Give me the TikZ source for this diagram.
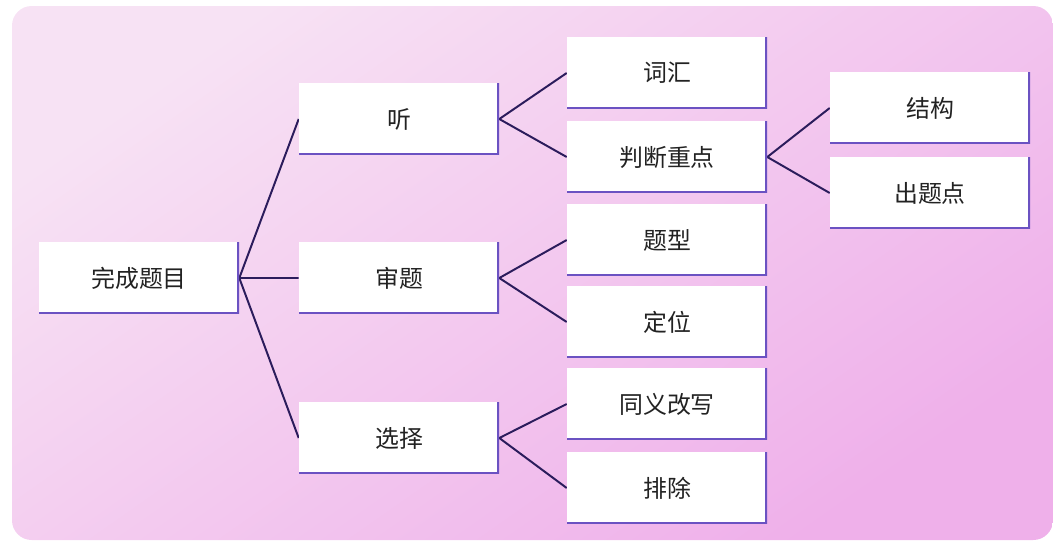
\documentclass[tikz,border=0pt]{standalone}
\usepackage{fontspec}
\setmainfont{Noto Sans CJK SC}
\usepackage{tikz}
\usetikzlibrary{backgrounds,calc}
\definecolor{bgtop}{HTML}{F7E2F4}
\definecolor{bgbot}{HTML}{EFB0EA}
\definecolor{linec}{HTML}{2B1C5C}
\definecolor{shadowc}{HTML}{6B52C2}
\definecolor{textc}{HTML}{222222}

\begin{document}
\begin{tikzpicture}[x=0.025cm,y=-0.025cm]
  \tikzstyle{box} = [fill=white,minimum width=5cm,minimum height=1.78cm,inner sep=0pt,
    font=\fontsize{17}{20}\selectfont,text=textc,
    path picture={\draw[shadowc,line width=2.4pt]
      (path picture bounding box.north east) -- (path picture bounding box.south east)
      -- (path picture bounding box.south west);}]
  \tikzstyle{branch} = [draw=linec,line width=1.4pt]
  %
  \useasboundingbox (0,0) rectangle (1053,542);
  % First column.
  \node[box] (task) at (139,278) {完成题目};
  % Second column.
  \node[box] (listen) at (399,119) {听};
  \node[box] (read) at (399,278) {审题};
  \node[box] (choose) at (399,438) {选择};
  % Third column.
  \node[box] (vocab) at (667,73) {词汇};
  \node[box] (focus) at (667,157) {判断重点};
  \node[box] (qtype) at (667,240) {题型};
  \node[box] (locate) at (667,322) {定位};
  \node[box] (para) at (667,404) {同义改写};
  \node[box] (exclude) at (667,488) {排除};
  % Fourth column.
  \node[box] (struct) at (930,108) {结构};
  \node[box] (point) at (930,193) {出题点};
  \begin{pgfonlayer}{background}
      % Draw background.
      \shade[top color=bgtop,bottom color=bgbot,shading angle=35,rounded corners=14pt]
        (12,6) rectangle (1053,540);
      % Draw lines.
      \draw[branch] (task.east) -- (listen.west) (task.east) -- (read.west) (task.east) -- (choose.west)
        (listen.east) -- (vocab.west) (listen.east) -- (focus.west)
        (read.east) -- (qtype.west) (read.east) -- (locate.west)
        (choose.east) -- (para.west) (choose.east) -- (exclude.west)
        (focus.east) -- (struct.west) (focus.east) -- (point.west);
  \end{pgfonlayer}
\end{tikzpicture}
\end{document}
